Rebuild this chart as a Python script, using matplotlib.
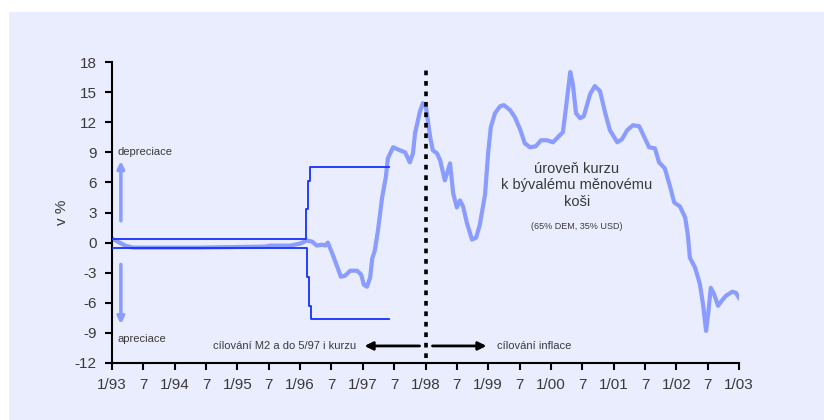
import matplotlib.pyplot as plt
from matplotlib.patches import Rectangle

plt.rcParams['font.family'] = ['Liberation Sans', 'DejaVu Sans']
plt.rcParams['axes.unicode_minus'] = False

# měsíce od 1/93, hodnota v %
kurz_m = [0, 1.1, 2.5, 4.0, 16.8, 29.3, 30.2, 34.1, 36.0, 37.3, 38.3, 39.2, 40.2, 40.8,
          41.3, 42.1, 43.1, 43.8, 44.6, 45.6, 46.9, 47.7, 48.2, 48.8, 49.4, 49.8, 50.3,
          50.9, 51.7, 52.4, 52.8, 53.8, 55.1, 56.1, 57.0, 57.6, 58.0, 58.9, 59.5, 60.1,
          60.9, 61.4, 62.2, 62.8, 63.7, 64.7, 65.3, 66.0, 66.6, 67.2, 67.9, 68.9, 69.7,
          70.4, 71.4, 72.0, 72.5, 73.3, 74.3, 75.0, 76.2, 77.1, 78.1, 79.0, 80.0, 81.1,
          82.1, 83.3, 84.4, 85.7, 86.3, 86.9, 87.7, 88.2, 88.8, 89.6, 90.3, 91.5, 92.4,
          93.4, 94.4, 95.3, 96.7, 97.6, 98.6, 99.7, 100.9, 101.8, 102.8, 103.9, 104.7,
          105.8, 106.8, 107.6, 108.7, 109.7, 110.2, 110.6, 111.6, 112.5, 113.1, 113.7,
          114.1, 114.6, 115.2, 116.0, 116.7, 117.5, 118.7, 119.4, 120.0]
kurz_v = [0.4, 0.1, -0.3, -0.5, -0.5, -0.4, -0.3, -0.3, -0.1, 0.2, 0.1, -0.3, -0.2, -0.3,
          0.0, -1.0, -2.4, -3.4, -3.3, -2.8, -2.8, -3.2, -4.2, -4.4, -3.5, -1.6, -0.8,
          1.2, 4.5, 6.5, 8.4, 9.5, 9.2, 9.0, 8.0, 8.9, 10.9, 13.0, 13.9, 13.5,
          10.5, 9.2, 8.9, 8.2, 6.2, 7.9, 4.9, 3.5, 4.2, 3.6, 2.0, 0.3, 0.5,
          1.8, 4.8, 9.0, 11.5, 12.9, 13.6, 13.7, 13.2, 12.5, 11.3, 9.9, 9.5, 9.6,
          10.2, 10.2, 10.0, 10.7, 11.0, 13.5, 17.0, 15.8, 12.9, 12.4, 12.6, 14.8, 15.6,
          15.1, 12.9, 11.2, 10.0, 10.3, 11.2, 11.7, 11.6, 10.6, 9.5, 9.4, 8.0,
          7.4, 5.6, 4.0, 3.6, 2.5, 0.8, -1.5, -2.5, -4.1, -6.1, -8.8,
          -7.1, -4.5, -5.1, -6.3, -5.8, -5.3, -4.9, -5.0, -5.5]

# fluktuační pásmo
horni_m = [0, 37.1, 37.5, 37.9, 53.0]
horni_v = [0.4, 3.3, 6.1, 7.5, 7.5]
dolni_m = [0, 37.3, 37.7, 38.1, 53.0]
dolni_v = [-0.5, -3.4, -6.3, -7.6, -7.6]

tick_m = list(range(0, 121, 6))
tick_labels = []
for i, m in enumerate(tick_m):
    if i % 2 == 0:
        tick_labels.append(f"1/{(93 + m // 12) % 100:02d}")
    else:
        tick_labels.append("7")

LIGHT = '#8b9cff'
DARK = '#1530ff'
TXT = '#3a3a3a'

fig = plt.figure(figsize=(8.24, 4.2), dpi=100)
fig.patch.set_facecolor('white')
fig.patches.append(Rectangle((9 / 824, 0), 1, 1 - 12 / 420, transform=fig.transFigure,
                             facecolor='#eaedfe', edgecolor='none', zorder=-10))

ax = fig.add_axes([112 / 824, 1 - 363 / 420, (739 - 112) / 824, (363 - 62) / 420])
ax.set_facecolor('none')

ax.plot(kurz_m, kurz_v, color=LIGHT, lw=3.0, zorder=2)
ax.plot(horni_m, horni_v, color=DARK, lw=1.3, drawstyle='steps-post', zorder=3)
ax.plot(dolni_m, dolni_v, color=DARK, lw=1.3, drawstyle='steps-post', zorder=3)

# svislá čára 1/98
ax.plot([60, 60], [-11.5, 17.4], color='black', lw=2.6, linestyle=(0, (1.3, 1.6)),
        zorder=4, dash_capstyle='butt')

# šipky režimů
ax.annotate('', xy=(47.8, -10.3), xytext=(59.4, -10.3),
            arrowprops=dict(arrowstyle='-|>', color='black', lw=2, mutation_scale=12))
ax.annotate('', xy=(72.2, -10.3), xytext=(60.8, -10.3),
            arrowprops=dict(arrowstyle='-|>', color='black', lw=2, mutation_scale=12))
ax.text(46.7, -10.3, 'cílování M2 a do 5/97 i kurzu', ha='right', va='center',
        fontsize=8, color=TXT)
ax.text(73.6, -10.3, 'cílování inflace', ha='left', va='center', fontsize=8, color=TXT)

# depreciace / apreciace
ax.annotate('', xy=(1.7, 8.4), xytext=(1.7, 1.9),
            arrowprops=dict(arrowstyle='-|>', color=LIGHT, lw=2.5, mutation_scale=10))
ax.annotate('', xy=(1.7, -8.4), xytext=(1.7, -1.9),
            arrowprops=dict(arrowstyle='-|>', color=LIGHT, lw=2.5, mutation_scale=10))
ax.text(1.0, 9.0, 'depreciace', ha='left', va='center', fontsize=8, color=TXT)
ax.text(1.0, -9.6, 'apreciace', ha='left', va='center', fontsize=8, color=TXT)

ax.text(89, 5.7, 'úroveň kurzu\nk bývalému měnovému\nkoši', ha='center', va='center',
        fontsize=10.5, color=TXT, linespacing=1.25)
ax.text(89, 1.6, '(65% DEM, 35% USD)', ha='center', va='center', fontsize=6.5, color=TXT)

ax.set_xlim(0, 120)
ax.set_ylim(-12, 18)
ax.set_xticks(tick_m)
ax.set_xticklabels(tick_labels)
ax.set_yticks(range(-12, 19, 3))
ax.set_ylabel('v %', fontsize=11, color=TXT, labelpad=4)

for s in ['top', 'right']:
    ax.spines[s].set_visible(False)
for s in ['left', 'bottom']:
    ax.spines[s].set_linewidth(1.5)
    ax.spines[s].set_color('black')
ax.tick_params(axis='both', direction='out', length=5, width=1.5, labelsize=11,
               labelcolor=TXT, pad=6)

fig.savefig('out.png', dpi=100)
